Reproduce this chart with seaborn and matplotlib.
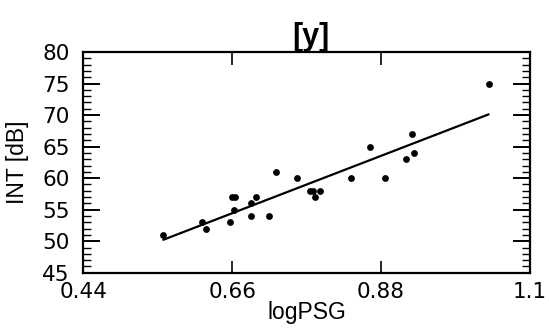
import numpy as np
import pandas as pd
import matplotlib
matplotlib.use("Agg")
import matplotlib.pyplot as plt
import seaborn as sns
from matplotlib.ticker import MultipleLocator

log_psg = [0.558, 0.615, 0.621, 0.657, 0.660, 0.664, 0.662, 0.687, 0.687, 0.695,
           0.714, 0.725, 0.755, 0.775, 0.779, 0.782, 0.790, 0.835, 0.863, 0.886,
           0.917, 0.926, 0.928, 1.039]
int_db = [51, 53, 52, 53, 57, 57, 55, 56, 54, 57,
          54, 61, 60, 58, 58, 57, 58, 60, 65, 60,
          63, 67, 64, 75]
x_ticks = [0.44, 0.66, 0.88, 1.1]
x_tick_labels = ["0.44", "0.66", "0.88", "1.1"]
y_ticks = [45, 50, 55, 60, 65, 70, 75, 80]

df = pd.DataFrame({"logPSG": log_psg, "INT": int_db})

sns.set_style("ticks")
plt.rcParams['font.family'] = ['Liberation Sans', 'DejaVu Sans']
plt.rcParams['text.color'] = 'black'
plt.rcParams['axes.labelcolor'] = 'black'
plt.rcParams['xtick.color'] = 'black'
plt.rcParams['ytick.color'] = 'black'

fig = plt.figure(figsize=(5.49, 3.29), dpi=100)
ax = fig.add_axes([0.152, 0.171, 0.8133, 0.671])

sns.regplot(data=df, x="logPSG", y="INT", ax=ax, ci=None, color="black",
            scatter_kws={"s": 24, "linewidths": 0, "alpha": 1.0},
            line_kws={"linewidth": 1.6})

ax.set_xlim(0.44, 1.1)
ax.set_ylim(45, 80)
ax.set_xticks(x_ticks)
ax.set_xticklabels(x_tick_labels)
ax.set_yticks(y_ticks)
ax.yaxis.set_minor_locator(MultipleLocator(1))

for s in ax.spines.values():
    s.set_linewidth(1.6)
    s.set_color("black")

ax.tick_params(axis="x", which="major", direction="in", top=True, bottom=True,
               length=9, width=1.2, pad=7, colors="black")
ax.tick_params(axis="y", which="major", direction="in", left=True, right=True,
               length=12, width=1.4, pad=10, colors="black")
ax.tick_params(axis="y", which="minor", direction="in", left=True, right=True,
               length=6, width=1.0, colors="black")
for lab in ax.get_xticklabels() + ax.get_yticklabels():
    lab.set_fontfamily("DejaVu Sans")
    lab.set_fontsize(15.5)

ax.set_xlabel("logPSG", fontsize=16.5, color="black")
ax.xaxis.set_label_coords(0.50, -0.13)
ax.set_ylabel("INT [dB]", fontsize=16.5, color="black")
ax.yaxis.set_label_coords(-0.122, 0.5)
ax.set_title("[y]", fontsize=22, fontweight="bold", x=0.51, pad=5, color="black")

fig.savefig("out.png", dpi=100)
